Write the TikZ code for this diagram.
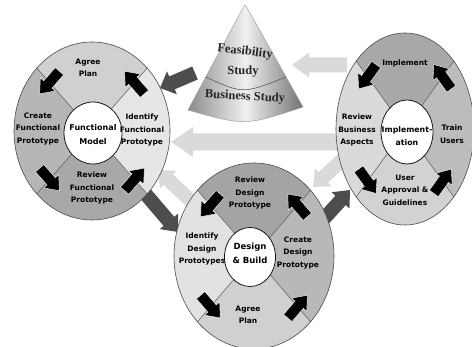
\documentclass[tikz,border=0pt]{standalone}
\usepackage{fontspec}
\setmainfont{DejaVu Sans}
\newfontfamily\pyrfont{Liberation Serif}
\usetikzlibrary{calc,shapes.geometric}

\definecolor{fmtop}{HTML}{D0D0D0}
\definecolor{fmleft}{HTML}{B6B6B6}
\definecolor{fmbot}{HTML}{A8A8A8}
\definecolor{fmright}{HTML}{E6E6E6}
\definecolor{dbtop}{HTML}{A4A4A4}
\definecolor{dbleft}{HTML}{E2E2E2}
\definecolor{dbbot}{HTML}{D0D0D0}
\definecolor{dbright}{HTML}{B8B8B8}
\definecolor{imtop}{HTML}{A8A8A8}
\definecolor{imleft}{HTML}{DADADA}
\definecolor{imbot}{HTML}{D2D2D2}
\definecolor{imright}{HTML}{BCBCBC}
\definecolor{darkarrow}{HTML}{4D4D4D}
\definecolor{lightarrow}{HTML}{DADADA}

\tikzset{
  lbl/.style={font=\fontsize{7.5}{12.5}\selectfont\bfseries, align=center, inner sep=0pt, text=black},
  inlbl/.style={font=\fontsize{8.5}{14}\selectfont\bfseries, align=center, inner sep=0pt, text=black},
  hub/.style={ellipse, draw=black!90, line width=0.8pt, fill=white, inner sep=0pt},
  rim/.style={draw=black!70, line width=0.6pt},
  divider/.style={draw=black!65, line width=0.5pt},
  blk/.style={fill=black, draw=white, line width=0.4pt},
  darkarr/.style={fill=darkarrow},
  lightarr/.style={fill=lightarrow},
  pyrtxt/.style={font={\pyrfont\fontsize{12.5}{14}\selectfont\bfseries}, inner sep=0pt, text=black!85}
}

% block arrow: style, from, to, shaft half width, head half width, head length
\newcommand\blockarr[6]{%
  \path ($(#3)!#6!(#2)$) coordinate (ba-c);
  \fill[#1] ($(#2)!#4!90:(#3)$) -- ($(ba-c)!#4!90:(#3)$) -- ($(ba-c)!#5!90:(#3)$) -- (#3)
    -- ($(ba-c)!#5!-90:(#3)$) -- ($(ba-c)!#4!-90:(#3)$) -- ($(#2)!#4!-90:(#3)$) -- cycle;%
}

% wheel: centre, rx, ry, top, left, bottom, right colours
\newcommand\wheel[7]{%
  \fill[#4] (#1) -- ++(45:#2pt and #3pt) arc[start angle=45,end angle=135,x radius=#2pt,y radius=#3pt] -- cycle;
  \fill[#5] (#1) -- ++(135:#2pt and #3pt) arc[start angle=135,end angle=225,x radius=#2pt,y radius=#3pt] -- cycle;
  \fill[#6] (#1) -- ++(225:#2pt and #3pt) arc[start angle=225,end angle=315,x radius=#2pt,y radius=#3pt] -- cycle;
  \fill[#7] (#1) -- ++(315:#2pt and #3pt) arc[start angle=315,end angle=405,x radius=#2pt,y radius=#3pt] -- cycle;
  \foreach \t in {45,135,225,315} \draw[divider] (#1) -- ++(\t:#2pt and #3pt);
  \draw[rim] (#1) ellipse[x radius=#2pt, y radius=#3pt];
  \pgfmathsetmacro\wheelra{0.77*#2}%
  \pgfmathsetmacro\wheelrb{0.77*#3}%
  \foreach \t in {45,135,225,315}{%
    \pgfmathsetmacro\wheelphi{atan2(#3*cos(\t),-#2*sin(\t))}%
    \path (#1) ++(\t:\wheelra pt and \wheelrb pt) coordinate (#1-p\t);
    \path (#1-p\t) ++(\wheelphi+180:15pt) coordinate (#1-s\t);
    \path (#1-p\t) ++(\wheelphi:15pt) coordinate (#1-e\t);
    \blockarr{blk}{#1-s\t}{#1-e\t}{5.5pt}{10pt}{12.5pt}
  }%
}

\begin{document}
\begin{tikzpicture}[x=1pt,y=1pt]
\useasboundingbox (0,0) rectangle (472,347);
\fill[white] (0,0) rectangle (472,347);

% centres of the three cycles
\coordinate (FM) at (92,216);
\coordinate (DB) at (254,91);
\coordinate (IM) at (405,218);

% grey linking arrows (behind)
\coordinate (g1s) at (195,274); \coordinate (g1e) at (160,259);
\coordinate (g2s) at (347,282); \coordinate (g2e) at (292,282);
\coordinate (g3s) at (345,205); \coordinate (g3e) at (171,205);
\coordinate (g4s) at (192,145); \coordinate (g4e) at (158,177);
\coordinate (g5s) at (342,187); \coordinate (g5e) at (313,160);
\coordinate (g6s) at (143,156); \coordinate (g6e) at (178,115);
\coordinate (g7s) at (320,124); \coordinate (g7e) at (350,157);
\blockarr{darkarr}{g1s}{g1e}{7pt}{12.5pt}{13pt}
\blockarr{lightarr}{g2s}{g2e}{7.5pt}{12.5pt}{17pt}
\blockarr{lightarr}{g3s}{g3e}{8.5pt}{15pt}{22pt}
\blockarr{lightarr}{g4s}{g4e}{7pt}{12pt}{14pt}
\blockarr{lightarr}{g5s}{g5e}{7pt}{12pt}{14pt}
\blockarr{darkarr}{g6s}{g6e}{7pt}{12pt}{14pt}
\blockarr{darkarr}{g7s}{g7e}{7pt}{12pt}{14pt}

% cone
\shadedraw[draw=black!40, line width=0.4pt, left color=black!45, right color=black!55, middle color=black!6]
  (188,237) -- (242.2,337.7) .. controls (245,343) .. (247.9,337.8) -- (303,240)
  .. controls (245,221) .. (188,237) -- cycle;
\draw[black!65, line width=0.6pt] (205.7,270) .. controls (243,253) .. (286,270);
\node[pyrtxt, rotate=-7] (feas) at (245,295) {Feasibility};
\node[pyrtxt] (stud) at (243,275) {Study};
\node[pyrtxt, rotate=-3] (bus) at (245,250) {Business Study};

% wheels
\wheel{FM}{78}{89}{fmtop}{fmleft}{fmbot}{fmright}
\wheel{DB}{80}{93}{dbtop}{dbleft}{dbbot}{dbright}
\wheel{IM}{69}{96}{imtop}{imleft}{imbot}{imright}

% hubs
\node[hub, minimum width=58pt, minimum height=62pt] (FMhub) at (93,214) {};
\node[hub, minimum width=51pt, minimum height=59pt] (DBhub) at (250,90) {};
\node[hub, minimum width=52pt, minimum height=64pt] (IMhub) at (407,215) {};
\node[inlbl, font=\fontsize{8}{14}\selectfont\bfseries] (FMt) at (93,212) {Functional\\Model};
\node[inlbl] (DBt) at (250,94) {Design\\\& Build};
\node[inlbl, font=\fontsize{7.8}{13}\selectfont\bfseries] (IMt) at (407,211) {Implement-\\ation};

% functional model labels
\node[lbl] (fm1) at (88,279) {Agree\\Plan};
\node[lbl] (fm2) at (38,218) {Create\\Functional\\Prototype};
\node[lbl] (fm3) at (142,217) {Identify\\Functional\\Prototype};
\node[lbl] (fm4) at (92,159) {Review\\Functional\\Prototype};

% design and build labels
\node[lbl] (db1) at (250,154) {Review\\Design\\Prototype};
\node[lbl] (db2) at (202,98) {Identify\\Design\\Prototypes};
\node[lbl] (db3) at (298,94) {Create\\Design\\Prototype};
\node[lbl] (db4) at (248,32) {Agree\\Plan};

% implementation labels
\node[lbl] (im1) at (405,284) {Implement};
\node[lbl] (im2) at (357,217) {Review\\Business\\Aspects};
\node[lbl] (im3) at (452,213) {Train\\Users};
\node[lbl] (im4) at (405,157) {User\\Approval \&\\Guidelines};
\end{tikzpicture}
\end{document}
